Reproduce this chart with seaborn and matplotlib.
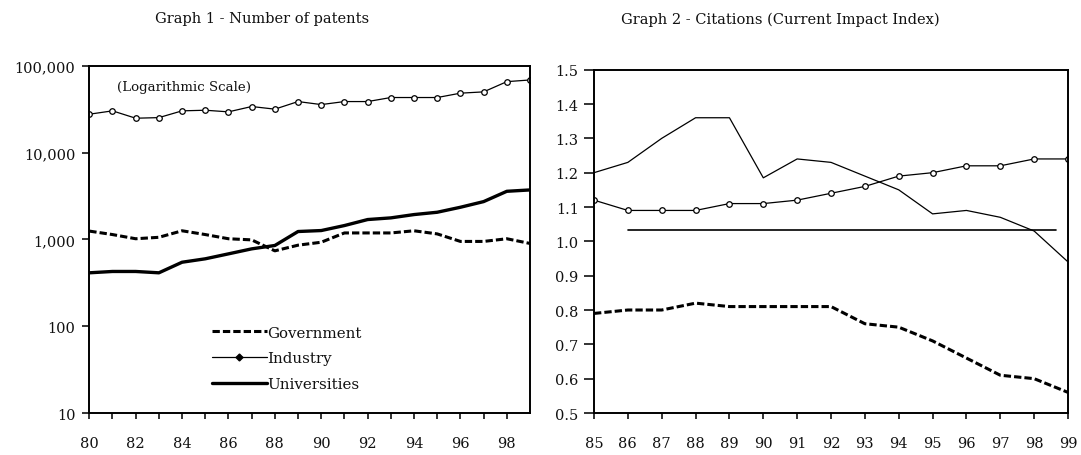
import numpy as np
import pandas as pd
import matplotlib
matplotlib.use("Agg")
import matplotlib.pyplot as plt
from matplotlib.ticker import FixedLocator, FuncFormatter, NullLocator, MultipleLocator
from matplotlib.lines import Line2D
import seaborn as sns

# ---- Graph 1: number of patents by sector (log scale) ----
years_patents = list(range(1980, 2000))
patents_government = [1250, 1140, 1020, 1060, 1260, 1140, 1020, 990, 740, 860,
                      930, 1190, 1190, 1190, 1260, 1160, 950, 950, 1020, 900]
patents_industry = [27800, 30400, 25000, 25400, 30400, 30900, 29600, 34100, 31800, 38900,
                    35900, 38900, 38900, 43300, 43300, 43300, 48600, 50300, 66000, 69000]
patents_universities = [413, 428, 428, 413, 547, 599, 683, 780, 853, 1236,
                        1268, 1448, 1698, 1775, 1938, 2061, 2353, 2734, 3594, 3726]

# ---- Graph 2: citations, current impact index ----
years_citations = list(range(1985, 2000))
cii_government = [0.79, 0.80, 0.80, 0.82, 0.81, 0.81, 0.81, 0.81, 0.76, 0.75,
                  0.71, 0.66, 0.61, 0.60, 0.56]
cii_industry = [1.12, 1.09, 1.09, 1.09, 1.11, 1.11, 1.12, 1.14, 1.16, 1.19,
                1.20, 1.22, 1.22, 1.24, 1.24]
cii_universities = [1.20, 1.23, 1.30, 1.36, 1.36, 1.185, 1.24, 1.23, 1.19, 1.15,
                    1.08, 1.09, 1.07, 1.03, 0.94]
cii_average_years = [1986, 1998.65]
cii_average = [1.033, 1.033]

sns.set_style("ticks")
plt.rcParams["font.family"] = ["DejaVu Serif"]
plt.rcParams["font.size"] = 10.5
plt.rcParams["text.color"] = "#111111"
plt.rcParams["xtick.color"] = "#111111"
plt.rcParams["ytick.color"] = "#111111"

fig = plt.figure(figsize=(10.81, 4.56), dpi=100)
ax1 = fig.add_axes([0.0826, 0.0921, 0.4077, 0.7610])
ax2 = fig.add_axes([0.5495, 0.0921, 0.4385, 0.7529])

DASH = (0, (2.4, 1.0))

pat = pd.DataFrame({
    "year": [y % 100 for y in years_patents],
    "Government": patents_government,
    "Industry": patents_industry,
    "Universities": patents_universities,
})
cit = pd.DataFrame({
    "year": [y % 100 for y in years_citations],
    "Government": cii_government,
    "Industry": cii_industry,
    "Universities": cii_universities,
})
avg = pd.DataFrame({"year": [y - 1900 for y in cii_average_years], "Average": cii_average})

# Graph 1 lines
sns.lineplot(data=pat, x="year", y="Government", ax=ax1, color="black", lw=2.2,
             linestyle=DASH, estimator=None)
sns.lineplot(data=pat, x="year", y="Industry", ax=ax1, color="black", lw=0.9,
             marker="o", markersize=4, markerfacecolor="white",
             markeredgecolor="black", markeredgewidth=0.9, estimator=None)
sns.lineplot(data=pat, x="year", y="Universities", ax=ax1, color="black", lw=2.4,
             estimator=None)

ax1.set_yscale("log")
ax1.set_ylim(10, 100000)
ax1.set_xlim(80, 99)
ax1.yaxis.set_major_locator(FixedLocator([10, 100, 1000, 10000, 100000]))
ax1.yaxis.set_major_formatter(FuncFormatter(lambda v, p: f"{int(round(v)):,}"))
ax1.yaxis.set_minor_locator(NullLocator())
ax1.xaxis.set_major_locator(FixedLocator(list(range(80, 99, 2))))
ax1.xaxis.set_minor_locator(FixedLocator(list(range(81, 99, 2))))
ax1.xaxis.set_major_formatter(FuncFormatter(lambda v, p: f"{int(v)}"))

ax1.text(0.063, 0.942, "(Logarithmic Scale)", transform=ax1.transAxes,
         fontsize=9.6, va="center", ha="left")

leg_handles = [
    Line2D([], [], color="black", lw=2.2, linestyle=DASH),
    Line2D([], [], color="black", lw=0.9, marker="D", markersize=3.5,
           markerfacecolor="black"),
    Line2D([], [], color="black", lw=2.4),
]
ax1.legend(leg_handles, ["Government", "Industry", "Universities"],
           loc="upper left", bbox_to_anchor=(0.278, 0.252), frameon=False,
           borderpad=0, borderaxespad=0, handlelength=3.65, handletextpad=0.05,
           labelspacing=0.78, fontsize=10.8)

# Graph 2 lines
sns.lineplot(data=cit, x="year", y="Government", ax=ax2, color="black", lw=2.2,
             linestyle=DASH, estimator=None)
sns.lineplot(data=cit, x="year", y="Industry", ax=ax2, color="black", lw=0.9,
             marker="o", markersize=4, markerfacecolor="white",
             markeredgecolor="black", markeredgewidth=0.9, estimator=None)
sns.lineplot(data=cit, x="year", y="Universities", ax=ax2, color="black", lw=0.9,
             estimator=None)
sns.lineplot(data=avg, x="year", y="Average", ax=ax2, color="black", lw=1.2,
             estimator=None)

ax2.set_ylim(0.5, 1.5)
ax2.set_xlim(85, 99)
ax2.yaxis.set_major_locator(MultipleLocator(0.1))
ax2.yaxis.set_major_formatter(FuncFormatter(lambda v, p: f"{v:.1f}"))
ax2.xaxis.set_major_locator(MultipleLocator(1))
ax2.xaxis.set_major_formatter(FuncFormatter(lambda v, p: f"{int(round(v))}"))

for ax in (ax1, ax2):
    ax.set_xlabel("")
    ax.set_ylabel("")
    for s in ax.spines.values():
        s.set_visible(True)
        s.set_linewidth(1.4)
        s.set_color("black")
    ax.tick_params(axis="x", which="both", direction="out", length=4.5, width=1.2,
                   pad=12, labelsize=10.5)
    ax.tick_params(axis="y", which="both", direction="out", length=5, width=1.2,
                   pad=5, labelsize=10.5)
ax2.tick_params(axis="y", length=7, pad=4)

fig.text(0.242, 0.958, "Graph 1 - Number of patents", ha="center", va="center",
         fontsize=10.5)
fig.text(0.7216, 0.956, "Graph 2 - Citations (Current Impact Index)", ha="center",
         va="center", fontsize=10.5)

fig.savefig("out.png", dpi=100, facecolor="white")
